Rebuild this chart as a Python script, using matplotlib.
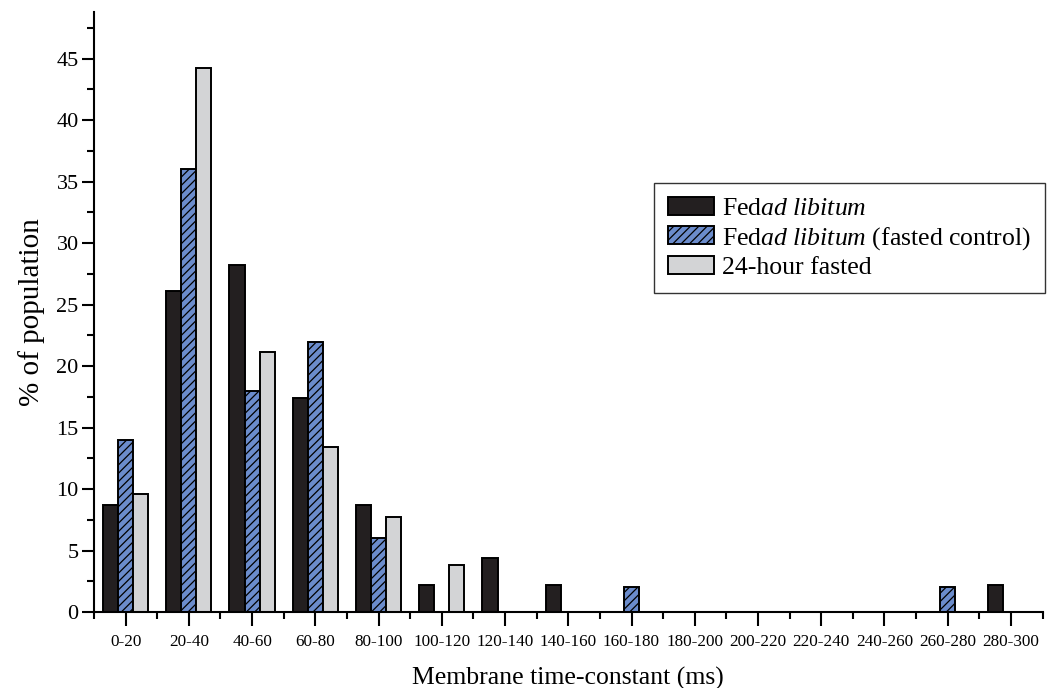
import matplotlib
matplotlib.use("Agg")
import matplotlib.pyplot as plt
import numpy as np
from matplotlib.ticker import MultipleLocator, FixedLocator

plt.rcParams['font.family'] = ['Liberation Serif', 'DejaVu Serif']
plt.rcParams['mathtext.fontset'] = 'custom'
plt.rcParams['mathtext.rm'] = 'Liberation Serif'
plt.rcParams['mathtext.it'] = 'Liberation Serif:italic'
plt.rcParams['hatch.linewidth'] = 0.9

categories = ["0-20", "20-40", "40-60", "60-80", "80-100", "100-120", "120-140",
              "140-160", "160-180", "180-200", "200-220", "220-240", "240-260",
              "260-280", "280-300"]
fed = [8.70, 26.09, 28.26, 17.39, 8.70, 2.17, 4.35, 2.17, 0, 0, 0, 0, 0, 0, 2.17]
fed_control = [14, 36, 18, 22, 6, 0, 0, 0, 2, 0, 0, 0, 0, 2, 0]
fasted = [9.62, 44.23, 21.15, 13.46, 7.69, 3.85, 0, 0, 0, 0, 0, 0, 0, 0, 0]

labels = ["Fed$\\it{ad\\ libitum}$", "Fed$\\it{ad\\ libitum}$ (fasted control)", "24-hour fasted"]

fig = plt.figure(figsize=(10.51, 6.88), dpi=100)
ax = fig.add_axes([0.0894, 0.1105, 0.9026, 0.872])

x = np.arange(len(categories))
w = 0.238
ax.bar(x - w, fed, w, color='#231f20', edgecolor='black', linewidth=1.4, label=labels[0])
ax.bar(x, fed_control, w, color='#6b8ccc', edgecolor='black', linewidth=1.4, hatch='////', label=labels[1])
ax.bar(x + w, fasted, w, color='#d3d4d6', edgecolor='black', linewidth=1.4, label=labels[2])

ax.set_xlim(-0.5, len(categories) - 0.5)
ax.set_ylim(0, 48.8)
ax.spines['top'].set_visible(False)
ax.spines['right'].set_visible(False)
ax.spines['left'].set_linewidth(1.5)
ax.spines['bottom'].set_linewidth(1.5)

ax.set_xticks(x)
ax.set_xticklabels(categories, fontsize=12.3)
ax.xaxis.set_minor_locator(FixedLocator(np.arange(-0.5, len(categories), 1.0)))
ax.tick_params(axis='x', which='major', length=10, width=1.5, pad=6)
ax.tick_params(axis='x', which='minor', length=5, width=1.5)

ax.yaxis.set_major_locator(MultipleLocator(5))
ax.yaxis.set_minor_locator(MultipleLocator(2.5))
ax.tick_params(axis='y', which='major', length=9, width=1.5, labelsize=16, pad=2)
ax.tick_params(axis='y', which='minor', length=5, width=1.5)

ax.set_xlabel("Membrane time-constant (ms)", fontsize=18.5, labelpad=12)
ax.set_ylabel("% of population", fontsize=21, labelpad=8)

leg = ax.legend(loc='upper left', bbox_to_anchor=(0.622, 0.734), bbox_transform=fig.transFigure,
                fontsize=18.5, frameon=True, fancybox=False, edgecolor='black',
                handlelength=1.8, handleheight=0.7, handletextpad=0.3, labelspacing=0.18,
                borderpad=0.55, borderaxespad=0)
leg.get_frame().set_linewidth(1.0)

fig.savefig("out.png", dpi=100)
